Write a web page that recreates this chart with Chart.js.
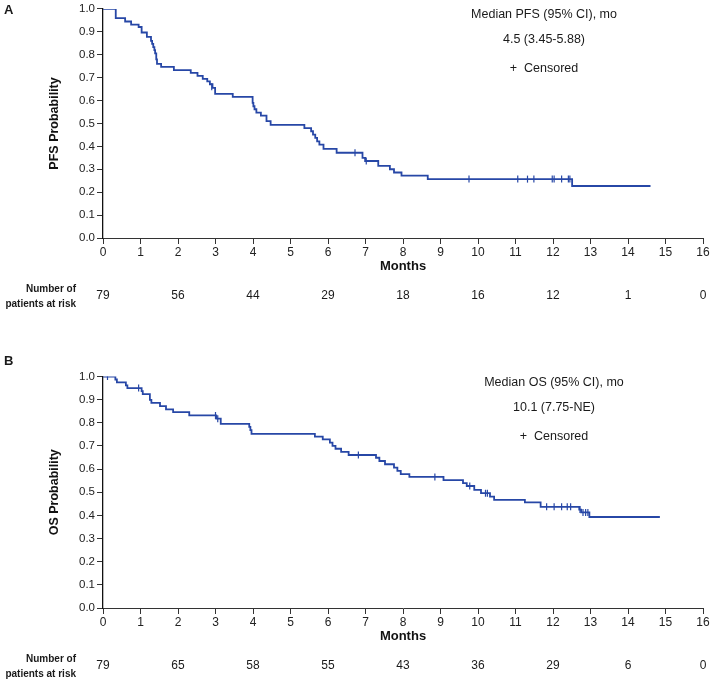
<!DOCTYPE html>
<html>
<head>
<meta charset="utf-8">
<script src="https://cdn.jsdelivr.net/npm/chart.js@4.4.0/dist/chart.umd.min.js"></script>
<style>
  body { margin: 0; background: #fff; }
  canvas { position: absolute; left: 0; }
  #pfsChart { top: 0; }
  #osChart { top: 345px; }
</style>
</head>
<body>
<canvas id="pfsChart" width="712" height="312"></canvas>
<canvas id="osChart" width="712" height="337"></canvas>
<script>
// at-risk table
const riskMonths = [0, 2, 4, 6, 8, 10, 12, 14, 16];
const pfsRisk = [79, 56, 44, 29, 18, 16, 12, 1, 0];
const osRisk = [79, 65, 58, 55, 43, 36, 29, 6, 0];

// PFS curve (event times, survival after the step)
const pfsTimes = [0, 0.34, 0.59, 0.75, 0.95, 1.03, 1.17, 1.28, 1.31, 1.34, 1.37, 1.39, 1.42, 1.44, 1.55,
  1.89, 2.34, 2.52, 2.66, 2.78, 2.85, 2.92, 2.99, 3.46, 3.99, 4.01, 4.04, 4.09, 4.21, 4.36, 4.47,
  5.37, 5.55, 5.6, 5.66, 5.71, 5.77, 5.88, 6.23, 6.92, 6.99, 7.34, 7.65, 7.76, 7.96, 8.66, 12.51, 14.6];
const pfsSurv = [1.0, 0.96, 0.945, 0.931, 0.921, 0.897, 0.878, 0.86, 0.847, 0.833, 0.82, 0.806, 0.78, 0.76, 0.747,
  0.733, 0.721, 0.708, 0.695, 0.684, 0.671, 0.655, 0.629, 0.616, 0.59, 0.575, 0.562, 0.547, 0.534, 0.51, 0.494,
  0.48, 0.466, 0.451, 0.437, 0.422, 0.408, 0.389, 0.372, 0.35, 0.336, 0.315, 0.3, 0.286, 0.272, 0.257, 0.227, 0.227];
const pfsCensorTimes = [2.9, 6.72, 7.02, 9.76, 11.06, 11.32, 11.49, 11.98, 12.03, 12.23, 12.41, 12.45];
const pfsCensorSurv = [0.66, 0.372, 0.336, 0.257, 0.257, 0.257, 0.257, 0.257, 0.257, 0.257, 0.257, 0.257];

// OS curve
const osTimes = [0, 0.33, 0.37, 0.61, 0.65, 1.03, 1.06, 1.25, 1.29, 1.52, 1.68, 1.87, 2.3, 3.02, 3.14,
  3.9, 3.93, 3.96, 5.65, 5.86, 6.05, 6.12, 6.2, 6.35, 6.55, 7.28, 7.37, 7.52, 7.76, 7.85, 7.94, 8.17,
  9.08, 9.6, 9.7, 9.9, 10.08, 10.32, 10.43, 11.25, 11.67, 12.7, 12.75, 12.97, 14.85];
const osSurv = [1.0, 0.987, 0.975, 0.962, 0.95, 0.937, 0.924, 0.899, 0.886, 0.872, 0.858, 0.846, 0.832, 0.818, 0.795,
  0.782, 0.768, 0.752, 0.74, 0.728, 0.714, 0.7, 0.688, 0.674, 0.661, 0.649, 0.635, 0.621, 0.606, 0.592, 0.578, 0.566,
  0.552, 0.539, 0.527, 0.51, 0.496, 0.481, 0.467, 0.456, 0.437, 0.425, 0.413, 0.393, 0.393];
const osCensorTimes = [0.12, 0.95, 3.0, 3.06, 6.81, 8.85, 9.78, 10.2, 10.25, 11.83, 12.03, 12.23, 12.38, 12.47, 12.72, 12.8, 12.87, 12.93];
const osCensorSurv = [1.0, 0.95, 0.832, 0.818, 0.661, 0.566, 0.527, 0.496, 0.496, 0.437, 0.437, 0.437, 0.437, 0.437, 0.425, 0.413, 0.413, 0.413];

const blue = "#2747a6";
const axisColor = "#333";
const sans = '"Liberation Sans", Arial, sans-serif';

const kmText = {
  id: "kmText",
  afterDraw(chart, args, opts) {
    const { ctx, chartArea, scales } = chart;
    ctx.save();
    ctx.fillStyle = "#1a1a1a";
    ctx.textBaseline = "middle";

    ctx.font = "bold 13px " + sans;
    ctx.textAlign = "left";
    ctx.fillText(opts.letter, 4, opts.letterY);

    ctx.font = "12.5px " + sans;
    ctx.textAlign = "center";
    const offs = [6, 31, 60];
    opts.legend.forEach((line, i) => {
      ctx.fillText(line, opts.legendX, chartArea.top + offs[i]);
    });

    ctx.font = "bold 10px " + sans;
    ctx.textAlign = "right";
    ctx.fillText("Number of", 76, chartArea.bottom + 51);
    ctx.fillText("patients at risk", 76, chartArea.bottom + 66);

    ctx.font = "12px " + sans;
    ctx.textAlign = "center";
    for (let i = 0; i < riskMonths.length; i++) {
      const x = scales.x.getPixelForValue(riskMonths[i]);
      ctx.fillText(String(opts.risk[i]), x, chartArea.bottom + 58);
    }
    ctx.restore();
  },
};

const makeKM = (id, cfg) => {
  const curve = cfg.times.map((t, i) => ({ x: t, y: cfg.surv[i] }));
  const censored = cfg.censorTimes.map((t, i) => ({ x: t, y: cfg.censorSurv[i] }));
  return new Chart(document.getElementById(id), {
    type: "line",
    data: {
      datasets: [
        {
          data: curve,
          stepped: "before",
          borderColor: blue,
          borderWidth: 1.8,
          pointRadius: 0,
          fill: false,
        },
        {
          data: censored,
          showLine: false,
          pointStyle: "line",
          pointRotation: 90,
          pointRadius: 3.5,
          pointBorderColor: blue,
          pointBorderWidth: 1.2,
        },
      ],
    },
    options: {
      responsive: false,
      animation: false,
      layout: { padding: { left: 46, right: 9, top: cfg.top, bottom: 34 } },
      plugins: {
        legend: { display: false },
        tooltip: { enabled: false },
        kmText: cfg.text,
      },
      scales: {
        x: {
          type: "linear",
          min: 0,
          max: 16,
          afterFit: (s) => { s.height = 40; },
          ticks: { stepSize: 1, padding: 1, color: "#222", font: { family: sans, size: 12 } },
          grid: { drawOnChartArea: false, tickLength: 6, color: axisColor },
          border: { color: axisColor, width: 1 },
          title: {
            display: true,
            text: "Months",
            color: "#111",
            font: { family: sans, size: 13, weight: "bold" },
            padding: { top: 0, bottom: 4 },
          },
        },
        y: {
          min: 0,
          max: 1,
          afterFit: (s) => { s.width = 57; },
          ticks: {
            stepSize: 0.1,
            padding: 2,
            color: "#222",
            font: { family: sans, size: 11.5 },
            callback: (v) => v.toFixed(1),
          },
          grid: { drawOnChartArea: false, tickLength: 6, color: axisColor },
          border: { color: "#111", width: 1.3 },
          title: {
            display: true,
            text: cfg.yTitle,
            color: "#111",
            font: { family: sans, size: 12.5, weight: "bold" },
            padding: { top: 1, bottom: 0 },
          },
        },
      },
    },
    plugins: [kmText],
  });
};

makeKM("pfsChart", {
  times: pfsTimes,
  surv: pfsSurv,
  censorTimes: pfsCensorTimes,
  censorSurv: pfsCensorSurv,
  top: 6,
  yTitle: "PFS Probability",
  text: {
    letter: "A",
    letterY: 10,
    legendX: 544,
    legend: ["Median PFS (95% CI), mo", "4.5 (3.45-5.88)", "+  Censored"],
    risk: pfsRisk,
  },
});

makeKM("osChart", {
  times: osTimes,
  surv: osSurv,
  censorTimes: osCensorTimes,
  censorSurv: osCensorSurv,
  top: 31.5,
  yTitle: "OS Probability",
  text: {
    letter: "B",
    letterY: 16.7,
    legendX: 554,
    legend: ["Median OS (95% CI), mo", "10.1 (7.75-NE)", "+  Censored"],
    risk: osRisk,
  },
});
</script>
</body>
</html>
